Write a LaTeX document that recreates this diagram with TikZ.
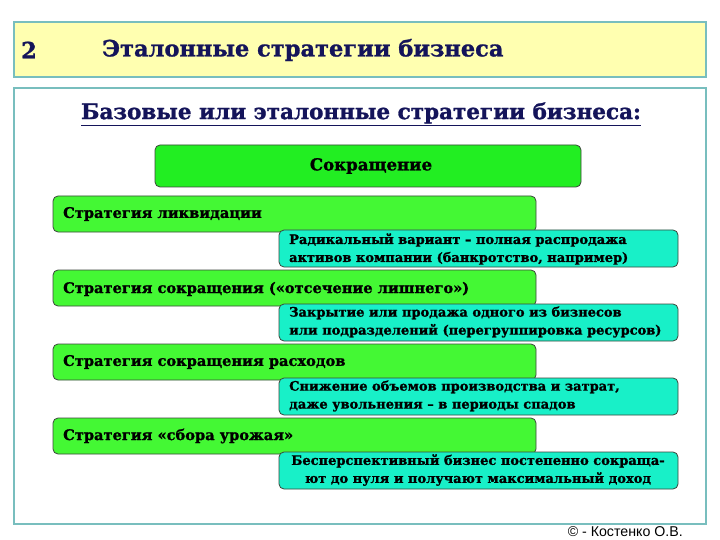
\documentclass[tikz,border=0pt]{standalone}
\usepackage{fontspec}
\setmainfont{DejaVu Serif}[BoldFeatures={FakeBold=1.2}]
\newfontfamily\cpfont{Liberation Sans}
\definecolor{hdrfill}{RGB}{255,255,176}
\definecolor{frame}{RGB}{120,190,190}
\definecolor{navy}{RGB}{20,20,90}
\definecolor{topgreen}{RGB}{34,238,34}
\definecolor{grn}{RGB}{68,248,52}
\definecolor{cyanbox}{RGB}{24,240,200}
\definecolor{edge}{RGB}{60,70,60}
\begin{document}
\begin{tikzpicture}[x=1pt,y=-1pt,
  panel/.style={draw=frame,line width=1.2pt},
  stratbox/.style={draw=edge,line width=0.8pt,rounded corners=5pt,fill=grn},
  notebox/.style={draw=edge,line width=0.8pt,rounded corners=5pt,fill=cyanbox},
  strattext/.style={anchor=west,font=\bfseries\fontsize{14.6}{17}\selectfont,inner sep=0pt},
  notetext/.style={anchor=west,font=\bfseries\fontsize{13}{18}\selectfont,align=left,inner sep=0pt},
]
\useasboundingbox (0,0) rectangle (720,540);
% header
\draw[panel,fill=hdrfill] (14,22) rectangle (706,77);
\node[anchor=west,text=navy,font=\bfseries\fontsize{22.5}{26}\selectfont,inner sep=0pt] (num) at (21,50) {2};
\node[anchor=west,text=navy,font=\bfseries\fontsize{22.5}{26}\selectfont,inner sep=0pt] (ttl) at (102,50) {Эталонные стратегии бизнеса};
% main panel
\draw[panel,fill=white] (14,88) rectangle (706,524);
\node[text=navy,font=\bfseries\fontsize{21.5}{25}\selectfont,inner sep=0pt] (sub) at (361,114) {\underline{Базовые или эталонные стратегии бизнеса:}};
% top box
\draw[draw=edge,line width=0.8pt,rounded corners=5pt,fill=topgreen] (155,145) rectangle (581,187);
\node[font=\bfseries\fontsize{16.6}{19}\selectfont,inner sep=0pt] (top) at (371,166) {Сокращение};
% strategy 1
\draw[stratbox] (53,196) rectangle (536,232);
\node[strattext] (s1) at (63,214) {Стратегия ликвидации};
\draw[notebox] (279,230) rectangle (678,267);
\node[notetext] (n1) at (289,249) {Радикальный вариант – полная распродажа\\активов компании (банкротство, например)};
% strategy 2
\draw[stratbox] (53,270) rectangle (536,306);
\node[strattext] (s2) at (63,289) {Стратегия сокращения («отсечение лишнего»)};
\draw[notebox] (279,304) rectangle (678,341);
\node[notetext] (n2) at (289,322) {Закрытие или продажа одного из бизнесов\\или подразделений (перегруппировка ресурсов)};
% strategy 3
\draw[stratbox] (53,344) rectangle (536,380);
\node[strattext] (s3) at (63,362) {Стратегия сокращения расходов};
\draw[notebox] (279,378) rectangle (678,415);
\node[notetext] (n3) at (289,396) {Снижение объемов производства и затрат,\\даже увольнения – в периоды спадов};
% strategy 4
\draw[stratbox] (53,418) rectangle (536,454);
\node[strattext] (s4) at (63,436) {Стратегия «сбора урожая»};
\draw[notebox] (279,452) rectangle (678,489);
\node[font=\bfseries\fontsize{13}{18}\selectfont,align=center,inner sep=0pt] (n4) at (478,470) {Бесперспективный бизнес постепенно сокраща-\\ют до нуля и получают максимальный доход};
% copyright
\node[anchor=base east,font=\cpfont\fontsize{14.2}{16}\selectfont,inner sep=0pt] (cp) at (683,536.5) {© - Костенко О.В.};
\end{tikzpicture}
\end{document}
